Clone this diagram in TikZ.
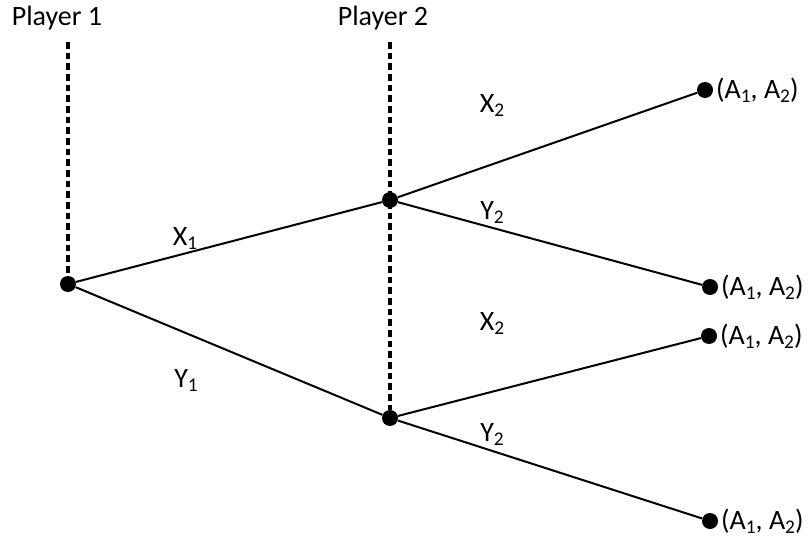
\documentclass[tikz,border=0pt]{standalone}
\usepackage{fontspec}
\setmainfont{Carlito}
\usetikzlibrary{positioning}
\newcommand{\sbs}[1]{\raisebox{-0.3ex}{\fontsize{14.5}{15}\selectfont #1}}
\tikzset{dot/.style={circle,fill=black,inner sep=0pt,minimum size=12pt}}
\tikzset{branch/.style={line width=1.5pt}}
\tikzset{info/.style={line width=2.4pt,dash pattern=on 5pt off 3pt}}
\tikzset{lab/.style={font=\fontsize{21}{24}\selectfont,inner sep=1pt}}

\begin{document}
\begin{tikzpicture}[x=0.75pt,y=-0.75pt]
  \useasboundingbox (0,0) rectangle (811,539);
  % decision nodes
  \node[dot] (root) at (68,284) {};
  \node[dot] (up) at (390,200) {};
  \node[dot] (down) at (390,418) {};
  % end nodes
  \node[dot] (e1) at (705,90) {};
  \node[dot] (e2) at (710,287) {};
  \node[dot] (e3) at (709,336) {};
  \node[dot] (e4) at (710,521) {};
  \foreach \e in {e1,e2,e3,e4}
    \node[lab,right=1pt of \e] {(A\sbs{1}, A\sbs{2})};
  % players
  \node[lab] (p1) at (57,18) {Player 1};
  \node[lab] (p2) at (383,18) {Player 2};
  \coordinate (t1) at (68,42);
  \coordinate (t2) at (390,42);
  \draw[info] (t1) -- (root);
  \draw[info] (t2) -- (down);
  % branches
  \draw[branch] (root) -- (up);
  \draw[branch] (root) -- (down);
  \draw[branch] (up) -- (e1);
  \draw[branch] (up) -- (e2);
  \draw[branch] (down) -- (e3);
  \draw[branch] (down) -- (e4);
  % moves
  \node[lab] (x1) at (185,239) {X\sbs{1}};
  \node[lab] (y1) at (186,381) {Y\sbs{1}};
  \node[lab] (x2u) at (492,106) {X\sbs{2}};
  \node[lab] (y2u) at (492,213) {Y\sbs{2}};
  \node[lab] (x2d) at (492,324) {X\sbs{2}};
  \node[lab] (y2d) at (492,435) {Y\sbs{2}};
\end{tikzpicture}
\end{document}
